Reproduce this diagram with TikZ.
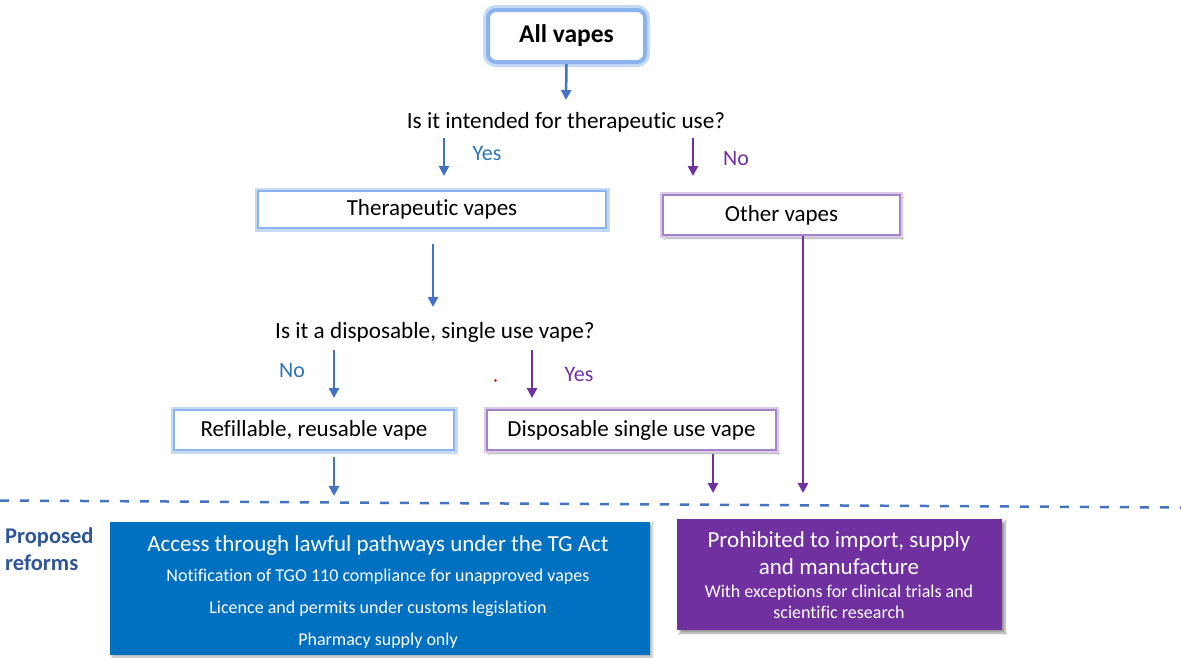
\documentclass[tikz,border=0pt]{standalone}
\usepackage{fontspec}
\setmainfont{Carlito}[Ligatures=NoCommon]
\usetikzlibrary{arrows.meta,shadows.blur}
\definecolor{arrb}{HTML}{4472C4}
\definecolor{arrp}{HTML}{7030A0}
\definecolor{txtb}{HTML}{2E75B6}
\definecolor{fillb}{HTML}{0070C0}
\definecolor{fillp}{HTML}{7030A0}
\definecolor{bordb}{HTML}{8DB3EE}
\definecolor{glowb}{HTML}{C6DAF6}
\definecolor{bordp}{HTML}{A483C6}
\definecolor{glowp}{HTML}{D9CBE8}
\definecolor{reform}{HTML}{2F5597}
\tikzset{
  fs/.style={font=\fontsize{#1}{#1}\selectfont},
  arrowb/.style={draw=arrb, line width=2.5, -{Triangle[length=10,width=10]}},
  arrowp/.style={draw=arrp, line width=2.5, -{Triangle[length=10,width=10]}},
  boxb/.style={draw=bordb, line width=2.5, fill=white, inner sep=0,
     preaction={draw=glowb, line width=7}, fs=23},
  boxp/.style={draw=bordp, line width=2.5, fill=white, inner sep=0,
     blur shadow={shadow xshift=2pt, shadow yshift=-3pt, shadow blur steps=6, shadow opacity=40},
     preaction={draw=glowp, line width=6}, fs=23},
  solidb/.style={fill=fillb, inner sep=0, blur shadow={shadow xshift=2pt, shadow yshift=-2pt, shadow blur steps=5, shadow opacity=30}},
  solidp/.style={fill=fillp, inner sep=0, blur shadow={shadow xshift=3pt, shadow yshift=-3pt, shadow blur steps=6, shadow opacity=40}},
  wtxt/.style={text=white, inner sep=0},
  q/.style={fs=23.2, inner sep=0},
  lab/.style={fs=22, inner sep=0},
}
\begin{document}
\begin{tikzpicture}[x=1pt,y=-1pt]
\useasboundingbox[fill=white] (0,0) rectangle (1181,657);
% top
\node[boxb, rounded corners=8, line width=4, preaction={draw=glowb, line width=10, rounded corners=8},
      minimum width=157, minimum height=52, font=\bfseries\fontsize{25.5}{25.5}\selectfont] (allv) at (566.5,36) {All vapes};
\node[q] (q1) at (566,122.5) {Is it intended for therapeutic use?};
\coordinate (a1e) at (566,100);
\draw[arrowb] (allv.south) -- (a1e);
% yes / no
\coordinate (yS) at (444,138); \coordinate (yE) at (444,176);
\coordinate (nS) at (693,138); \coordinate (nE) at (693,176);
\draw[arrowb] (yS) -- (yE);
\draw[arrowp] (nS) -- (nE);
\node[lab, text=txtb] (yes1) at (487,154) {Yes};
\node[lab, text=arrp] (no1) at (736,159) {No};
% second level
\node[boxb, minimum width=348, minimum height=37] (therap) at (432,209.5) {Therapeutic vapes};
\node[boxp, minimum width=237, minimum height=40] (other) at (781.5,215) {Other vapes};
\node[q] (q2) at (435,332.5) {Is it a disposable, single use vape?};
\coordinate (tE) at (433,307);
\draw[arrowb] (therap.south -| tE) ++(0,15) coordinate (tS) (tS) -- (tE);
% third level
\coordinate (n2S) at (334,350); \coordinate (n2E) at (334,398);
\coordinate (y2S) at (532,350); \coordinate (y2E) at (532,398);
\draw[arrowb] (n2S) -- (n2E);
\draw[arrowp] (y2S) -- (y2E);
\node[lab, text=txtb] (no2) at (292,371) {No};
\node[lab, text=arrp] (yes2) at (579,375) {Yes};
\fill[red!85!black] (495.5,380.5) circle (1.4);
\node[boxb, minimum width=280, minimum height=40] (refill) at (314,430) {Refillable, reusable vape};
\node[boxp, minimum width=289, minimum height=40] (dispo) at (631.5,430) {Disposable single use vape};
% to dashed line
\coordinate (rE) at (334,496);
\coordinate (dE) at (713,493);
\coordinate (oE) at (803,493);
\draw[arrowb] (refill.south -| rE) ++(0,6) coordinate (rS) (rS) -- (rE);
\draw[arrowp] (dispo.south -| dE) ++(0,3) coordinate (dS) (dS) -- (dE);
\draw[arrowp] (other.south -| oE) -- (oE);
% dashed separator
\coordinate (dl) at (0,500.5); \coordinate (dr) at (1181,507.5);
\draw[draw=arrb, line width=2.5, dash pattern=on 9 off 11] (dl) -- (dr);
% bottom
\node[text=reform, font=\bfseries\fontsize{22.5}{27}\selectfont, align=left, anchor=west, inner sep=0] (reformlab) at (5,549.5) {Proposed\\reforms};
\node[solidb, minimum width=540, minimum height=133] (accbox) at (380,588.5) {};
\node[wtxt, fs=23] (acc1) at (378,545) {Access through lawful pathways under the TG Act};
\node[wtxt, fs=18] (acc2) at (378,577) {Notification of TGO 110 compliance for unapproved vapes};
\node[wtxt, fs=18] (acc3) at (378,609) {Licence and permits under customs legislation};
\node[wtxt, fs=18] (acc4) at (378,641) {Pharmacy supply only};
\node[solidp, minimum width=325, minimum height=111] (probox) at (839.5,574.5) {};
\node[wtxt, align=center, font=\fontsize{23}{27}\selectfont] (pro1) at (839,553) {Prohibited to import, supply\\and manufacture};
\node[wtxt, align=center, font=\fontsize{18}{21}\selectfont] (pro2) at (839,602) {With exceptions for clinical trials and\\scientific research};
\end{tikzpicture}
\end{document}
